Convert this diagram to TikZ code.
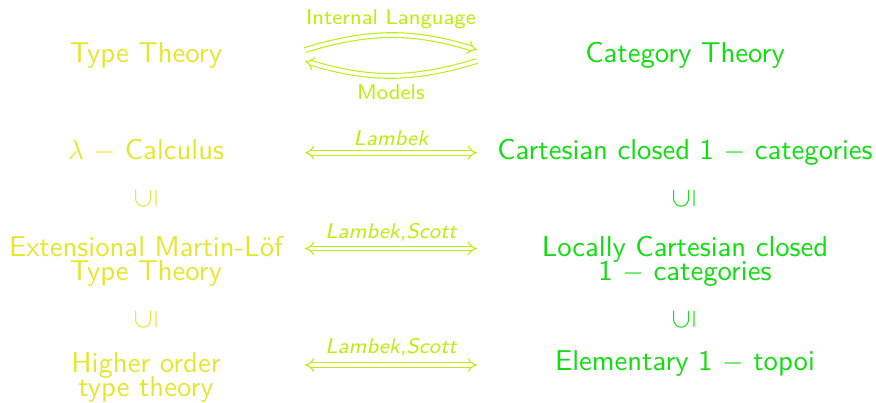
\documentclass[tikz,border=0pt]{standalone}
\usepackage{graphicx}
\usetikzlibrary{arrows.meta}
\definecolor{tyel}{HTML}{E6E62E}
\definecolor{cgrn}{HTML}{11DD11}
\definecolor{alime}{HTML}{BBEE11}
\begin{document}
\begin{tikzpicture}[x=0.359pt,y=0.359pt,font=\sffamily\fontsize{10.3}{12.4}\selectfont,
  lt/.style={text=tyel,align=center,inner sep=0pt},
  rt/.style={text=cgrn,align=center,inner sep=0pt},
  lbl/.style={text=alime,font=\sffamily\fontsize{7.65}{9}\selectfont,inner sep=0pt},
  ilbl/.style={text=alime,font=\sffamily\itshape\fontsize{7.65}{9}\selectfont,inner sep=0pt},
  dbl/.style={draw=alime,line width=0.4pt,double=white,double distance=1.3pt},
  subs/.style={inner sep=0pt,rotate=90}]
\useasboundingbox (0,0) rectangle (876,402);
% row 1
\node[lt,anchor=base] (tt) at (146,340) {Type Theory};
\node[rt,anchor=base] (ct) at (685,340) {Category Theory};
\node[lbl,anchor=base] (il) at (391,378) {Internal Language};
\node[lbl,anchor=base] (mo) at (391,302.7) {Models};
\coordinate (a1l) at (305,352);
\coordinate (a1r) at (477,352);
\coordinate (b1r) at (477,341);
\coordinate (b1l) at (305,341);
\draw[dbl,-{Implies}] (a1l) to[bend left=17] (a1r);
\draw[dbl,-{Implies}] (b1r) to[bend left=17] (b1l);
% row 2
\node[lt,anchor=base] (lc) at (146,242.5) {$\lambda$ $-$ Calculus};
\node[rt,anchor=base] (cc) at (685,242.5) {Cartesian closed 1 $-$ categories};
\node[ilbl,anchor=base] (l2) at (391,257) {Lambek};
\coordinate (a2l) at (305,249.3);
\coordinate (a2r) at (477,249.3);
\draw[dbl,{Implies}-{Implies}] (a2l) -- (a2r);
% subset 1
\node[subs,text=tyel] (sl1) at (146,203) {$\subseteq$};
\node[subs,text=cgrn] (sr1) at (684,203) {$\subseteq$};
% row 3
\node[lt] (ml) at (146,141) {Extensional Martin-L\"of\\[-3.8pt]Type Theory};
\node[rt] (lcc) at (685,141) {Locally Cartesian closed\\[-3.8pt]1 $-$ categories};
\node[ilbl,anchor=base] (l3) at (391,163.7) {Lambek,Scott};
\coordinate (a3l) at (305,153.5);
\coordinate (a3r) at (477,153.5);
\draw[dbl,{Implies}-{Implies}] (a3l) -- (a3r);
% subset 2
\node[subs,text=tyel] (sl2) at (146,82) {$\subseteq$};
\node[subs,text=cgrn] (sr2) at (684,82) {$\subseteq$};
% row 4
\node[lt] (ho) at (146,25) {Higher order\\[-3.8pt]type theory};
\node[rt,anchor=base] (et) at (685,31.5) {Elementary 1 $-$ topoi};
\node[ilbl,anchor=base] (l4) at (391,48.7) {Lambek,Scott};
\coordinate (a4l) at (305,37);
\coordinate (a4r) at (477,37);
\draw[dbl,{Implies}-{Implies}] (a4l) -- (a4r);
\end{tikzpicture}
\end{document}
